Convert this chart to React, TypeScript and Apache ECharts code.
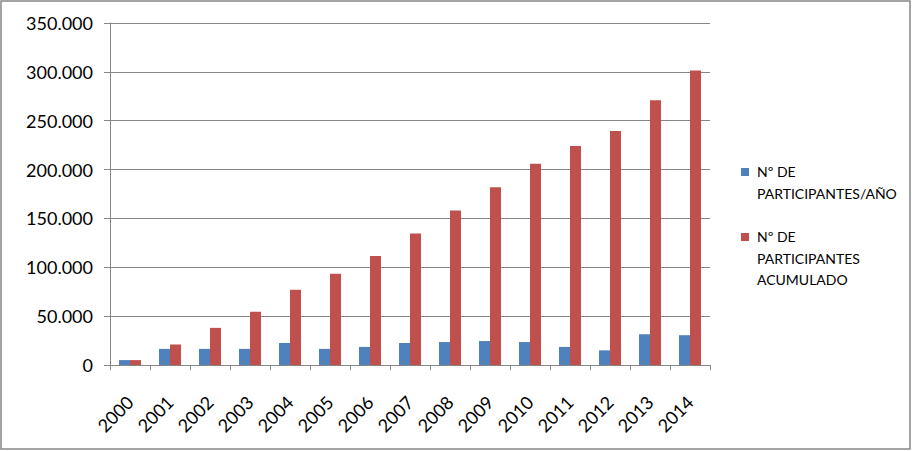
import React, { useEffect, useRef } from "react";
import * as echarts from "echarts";

const years = ["2000","2001","2002","2003","2004","2005","2006","2007","2008","2009","2010","2011","2012","2013","2014"];
const perYear = [5000,16500,16500,16500,22500,16500,18500,22500,23500,24500,23500,18500,15000,31500,30500];
const cumulative = [5000,21000,38000,54500,77000,93500,111500,134500,158000,182000,206000,224000,239500,271000,301500];
const seriesNames = ["Nº DE\nPARTICIPANTES/AÑO", "Nº DE\nPARTICIPANTES\nACUMULADO"];
const colors = ["#4F81BD", "#C0504D"];

const fmt = (v: number) => String(v).replace(/\B(?=(\d{3})+(?!\d))/g, ".");

export default function App() {
  const ref = useRef<HTMLDivElement>(null);
  useEffect(() => {
    document.body.style.margin = "0";
    const chart = echarts.init(ref.current!, null, { renderer: "svg" });
    const font = "Lato, 'Open Sans', sans-serif";
    chart.setOption({
      animation: false,
      backgroundColor: "#ffffff",
      textStyle: { fontFamily: font },
      grid: { left: 110, right: 202, top: 23, bottom: 86, containLabel: false },
      legend: {
        orient: "vertical",
        left: 739,
        top: 156,
        itemWidth: 8,
        itemHeight: 0,
        itemGap: 22,
        icon: "none",
        textStyle: { fontSize: 14, color: "#000", lineHeight: 21.5, fontFamily: font },
        data: seriesNames,
      },
      xAxis: {
        type: "category",
        data: years,
        axisLine: { lineStyle: { color: "#868686" } },
        axisTick: { show: true, length: 5, lineStyle: { color: "#868686" } },
        axisLabel: { rotate: 45, fontSize: 18, color: "#000", margin: 34, interval: 0 },
      },
      yAxis: {
        type: "value",
        min: 0,
        max: 350000,
        interval: 50000,
        axisLine: { show: true, lineStyle: { color: "#868686" } },
        axisTick: { show: true, length: 6, lineStyle: { color: "#868686" } },
        splitLine: { lineStyle: { color: "#868686" } },
        axisLabel: { fontSize: 18, color: "#000", margin: 17, formatter: (v: number) => fmt(v) },
      },
      series: [
        { name: seriesNames[0], type: "bar", data: perYear, itemStyle: { color: colors[0] }, barGap: "0%", barCategoryGap: "45%" },
        { name: seriesNames[1], type: "bar", data: cumulative, itemStyle: { color: colors[1] }, barGap: "0%", barCategoryGap: "45%" },
      ],
      graphic: [
        { type: "rect", shape: { x: 1, y: 1, width: 909, height: 448 }, style: { fill: "none", stroke: "#868686", lineWidth: 1.5 }, silent: true },
        { type: "rect", shape: { x: 741, y: 168, width: 8, height: 8 }, style: { fill: colors[0] }, silent: true },
        { type: "rect", shape: { x: 741, y: 233, width: 8, height: 8 }, style: { fill: colors[1] }, silent: true },
      ],
    });
    return () => chart.dispose();
  }, []);
  return <div ref={ref} style={{ width: 912, height: 451 }} />;
}
